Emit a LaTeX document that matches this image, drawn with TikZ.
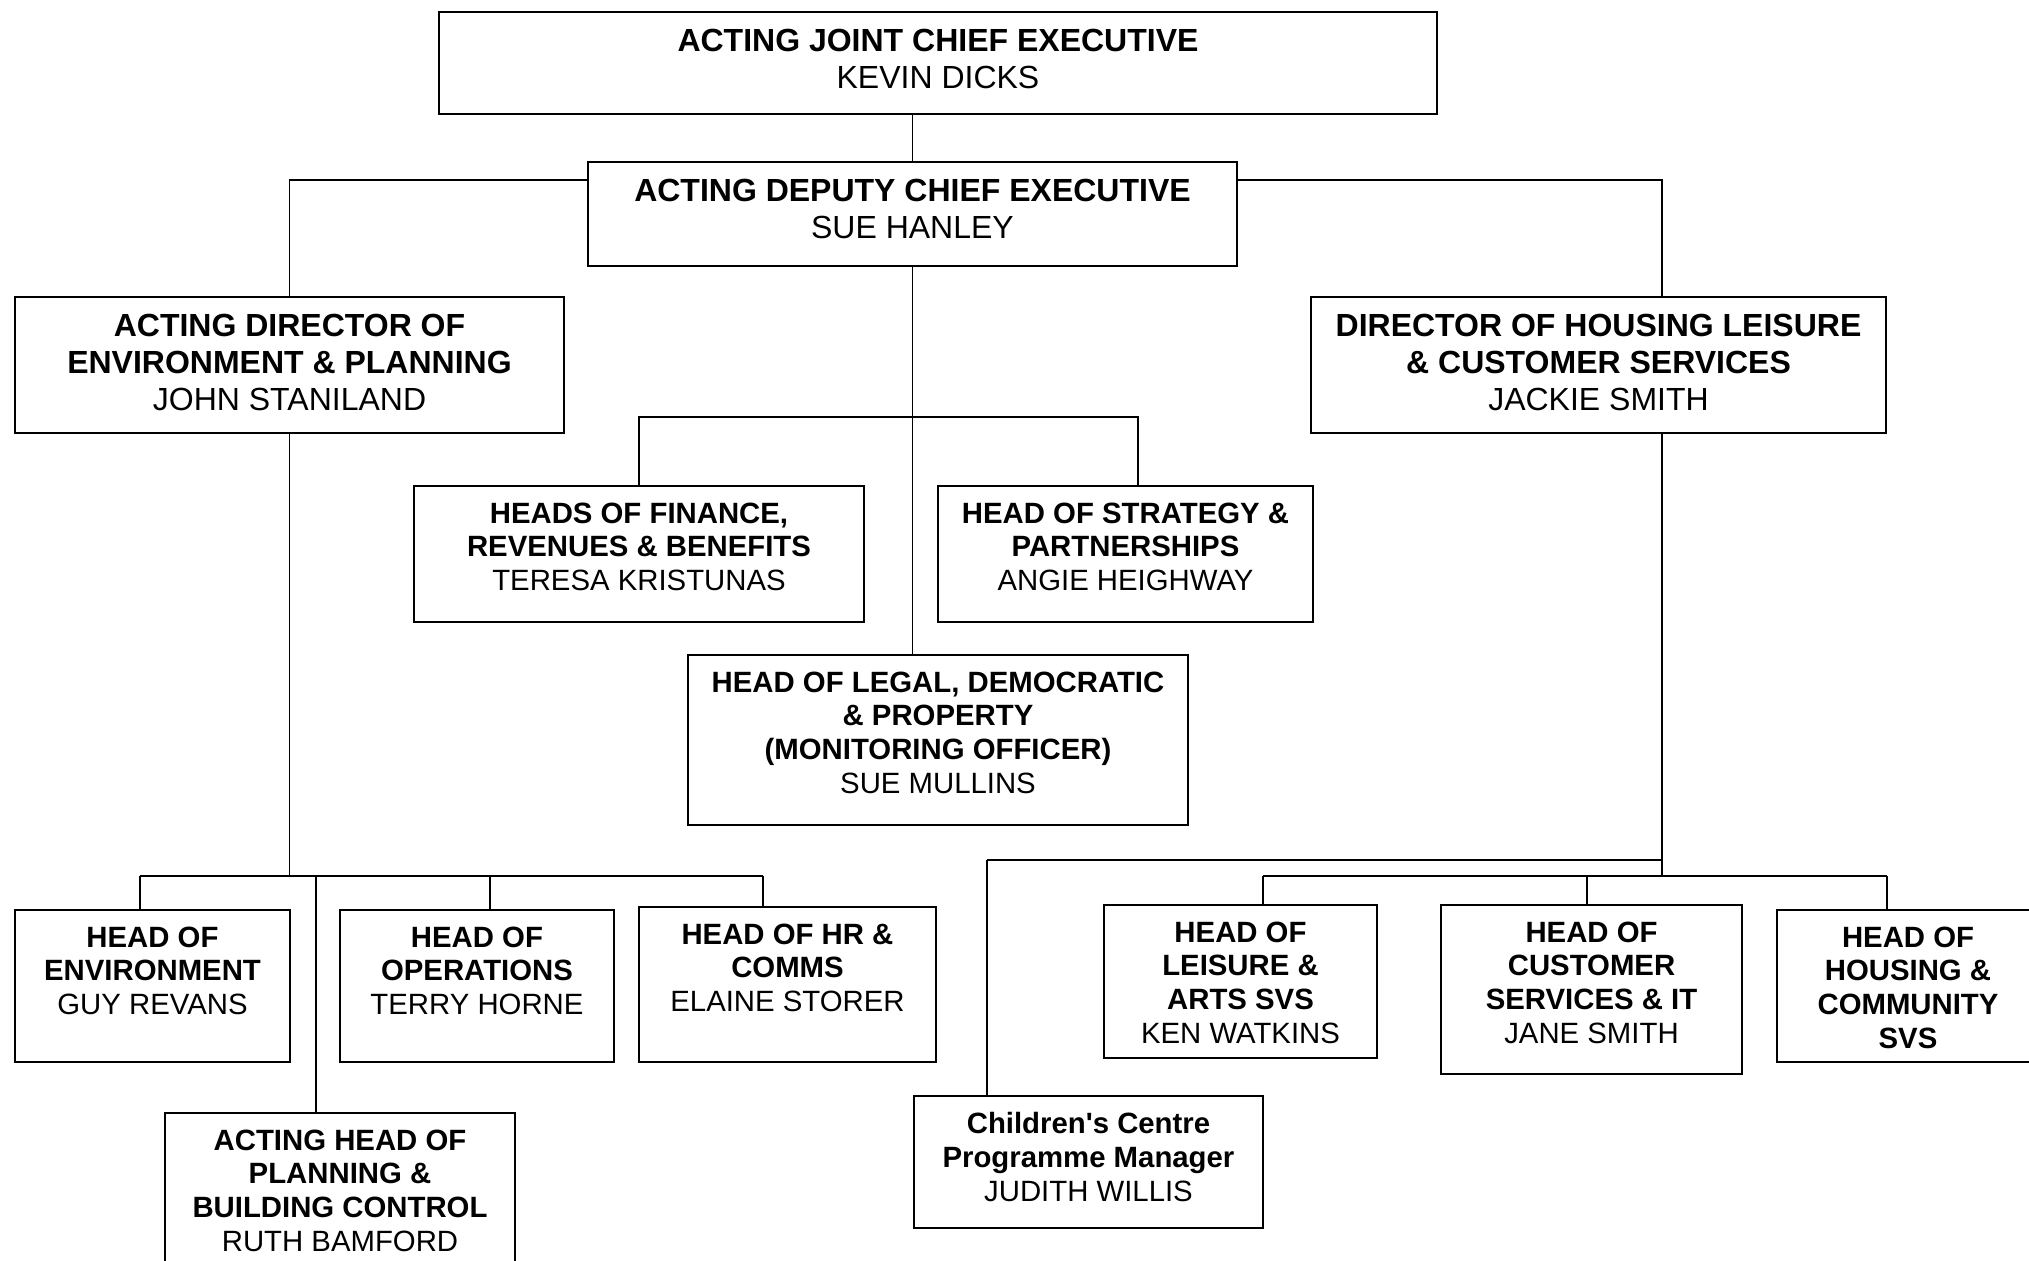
\documentclass[tikz,border=0pt]{standalone}
\usepackage{fontspec}
\setmainfont{Liberation Sans}[Ligatures=TeXOff]
\usepackage{tikz}
\newcommand{\bigfont}{\fontsize{16pt}{18.4pt}\selectfont}
\newcommand{\smallfont}{\fontsize{14.67pt}{16.87pt}\selectfont}
\tikzstyle{unit} =
[
	draw,rectangle,line width=1pt,inner sep=0pt,anchor=north west
]
\tikzstyle{bigtext} =
[
	anchor=north,yshift=-8.9pt,align=center,inner sep=0pt,
	font=\bigfont,execute at begin node=\strut
]
\tikzstyle{smalltext} =
[
	anchor=north,yshift=-8.6pt,align=center,inner sep=0pt,
	font=\smallfont,execute at begin node=\strut
]
\tikzstyle{link} = [line width=0.7pt]
\tikzstyle{bus}  = [line width=1.1pt]

\begin{document}
\begin{tikzpicture}[x=0.5pt,y=-0.5pt]
\clip (0,0) rectangle (2029,1261);

% top of the chart
\node[unit, minimum width=499pt, minimum height=51pt,
  label={[bigtext]north:{\textbf{ACTING JOINT CHIEF EXECUTIVE}\\KEVIN DICKS}}]
  (ace) at (438,11) {};
\node[unit, minimum width=324.5pt, minimum height=52pt,
  label={[bigtext]north:{\textbf{ACTING DEPUTY CHIEF EXECUTIVE}\\SUE HANLEY}}]
  (adce) at (587,161) {};
\node[unit, minimum width=274.5pt, minimum height=68pt,
  label={[bigtext]north:{\textbf{ACTING DIRECTOR OF}\\\textbf{ENVIRONMENT \& PLANNING}\\JOHN STANILAND}}]
  (aep) at (14,296) {};
\node[unit, minimum width=287.5pt, minimum height=68pt,
  label={[bigtext]north:{\textbf{DIRECTOR OF HOUSING LEISURE}\\\textbf{\& CUSTOMER SERVICES}\\JACKIE SMITH}}]
  (dhl) at (1310,296) {};

% heads under the deputy
\node[unit, minimum width=225pt, minimum height=68pt,
  label={[smalltext]north:{\textbf{HEADS OF FINANCE,}\\\textbf{REVENUES \& BENEFITS}\\TERESA KRISTUNAS}}]
  (fin) at (413,485) {};
\node[unit, minimum width=187.5pt, minimum height=68pt,
  label={[smalltext]north:{\textbf{HEAD OF STRATEGY \&}\\\textbf{PARTNERSHIPS}\\ANGIE HEIGHWAY}}]
  (strat) at (937,485) {};
\node[unit, minimum width=250pt, minimum height=85pt,
  label={[smalltext]north:{\textbf{HEAD OF LEGAL, DEMOCRATIC}\\\textbf{\& PROPERTY}\\\textbf{(MONITORING OFFICER)}\\SUE MULLINS}}]
  (legal) at (687,654) {};

% environment & planning
\node[unit, minimum width=137.5pt, minimum height=76pt,
  label={[smalltext]north:{\textbf{HEAD OF}\\\textbf{ENVIRONMENT}\\GUY REVANS}}]
  (env) at (14,909) {};
\node[unit, minimum width=137pt, minimum height=76pt,
  label={[smalltext]north:{\textbf{HEAD OF}\\\textbf{OPERATIONS}\\TERRY HORNE}}]
  (ops) at (339,909) {};
\node[unit, minimum width=148.5pt, minimum height=77.5pt,
  label={[smalltext]north:{\textbf{HEAD OF HR \&}\\\textbf{COMMS}\\ELAINE STORER}}]
  (hr) at (638,906) {};
\node[unit, minimum width=175pt, minimum height=89pt,
  label={[smalltext]north:{\textbf{ACTING HEAD OF}\\\textbf{PLANNING \&}\\\textbf{BUILDING CONTROL}\\RUTH BAMFORD}}]
  (plan) at (164,1112) {};

% housing leisure & customer services
\node[unit, minimum width=174.5pt, minimum height=66pt,
  label={[smalltext]north:{\textbf{Children's Centre}\\\textbf{Programme Manager}\\JUDITH WILLIS}}]
  (child) at (913,1095) {};
\node[unit, minimum width=136.5pt, minimum height=76.5pt,
  label={[smalltext]north:{\textbf{HEAD OF}\\\textbf{LEISURE \&}\\\textbf{ARTS SVS}\\KEN WATKINS}}]
  (leis) at (1103,904) {};
\node[unit, minimum width=150.5pt, minimum height=84.5pt,
  label={[smalltext]north:{\textbf{HEAD OF}\\\textbf{CUSTOMER}\\\textbf{SERVICES \& IT}\\JANE SMITH}}]
  (cust) at (1440,904) {};
\node[unit, minimum width=131pt, minimum height=76pt,
  label={[smalltext]north:{\textbf{HEAD OF}\\\textbf{HOUSING \&}\\\textbf{COMMUNITY}\\\textbf{SVS}}}]
  (hous) at (1776,909) {};

% joints of the lines
\coordinate (finbar)    at ([yshift=34pt]fin.north);
\coordinate (stratdrop) at ([xshift=6.25pt]strat.north);
\coordinate (dhltop)    at ([xshift=31.75pt]dhl.north);
\coordinate (dhldrop)   at ([xshift=31.75pt]dhl.south);
\coordinate (lbus)      at ([yshift=-221pt]aep.south);
\coordinate (rbus)      at ([yshift=-221pt]dhldrop);
\coordinate (cbar)      at ([yshift=-213pt]dhldrop);
\coordinate (envdrop)   at ([xshift=-6.25pt]env.north);
\coordinate (opsdrop)   at ([xshift=6.5pt]ops.north);
\coordinate (hrdrop)    at ([xshift=-12.25pt]hr.north);
\coordinate (plandrop)  at ([xshift=-12pt]plan.north);
\coordinate (childdrop) at ([xshift=-50.75pt]child.north);
\coordinate (leisdrop)  at ([xshift=11.25pt]leis.north);
\coordinate (custdrop)  at ([xshift=-2.25pt]cust.north);
\coordinate (housdrop)  at ([xshift=-10.5pt]hous.north);

\path[link]
	(adce.north) edge (adce.north |- ace.south)
	(adce.south) edge (adce.south |- legal.north)
	(aep.south) edge (lbus)
	(dhldrop) edge (rbus);

\draw[link] ([yshift=-9.5pt]adce.north west) -| (aep.north);
\draw[link] ([yshift=-9.5pt]adce.north east) -| (dhltop);
\draw[link] (fin.north) |- (stratdrop |- finbar) -- (stratdrop);

\draw[bus] (envdrop |- lbus) -- (hrdrop |- lbus);
\path[link]
	(envdrop |- lbus) edge (envdrop)
	(opsdrop |- lbus) edge (opsdrop)
	(hrdrop |- lbus) edge (hrdrop)
	(plandrop |- lbus) edge (plandrop);

\draw[bus] (cbar) -- (childdrop |- cbar);
\draw[bus] (leisdrop |- rbus) -- (housdrop |- rbus);
\path[link]
	(childdrop |- cbar) edge (childdrop)
	(leisdrop |- rbus) edge (leisdrop)
	(custdrop |- rbus) edge (custdrop)
	(housdrop |- rbus) edge (housdrop);

\end{tikzpicture}
\end{document}
